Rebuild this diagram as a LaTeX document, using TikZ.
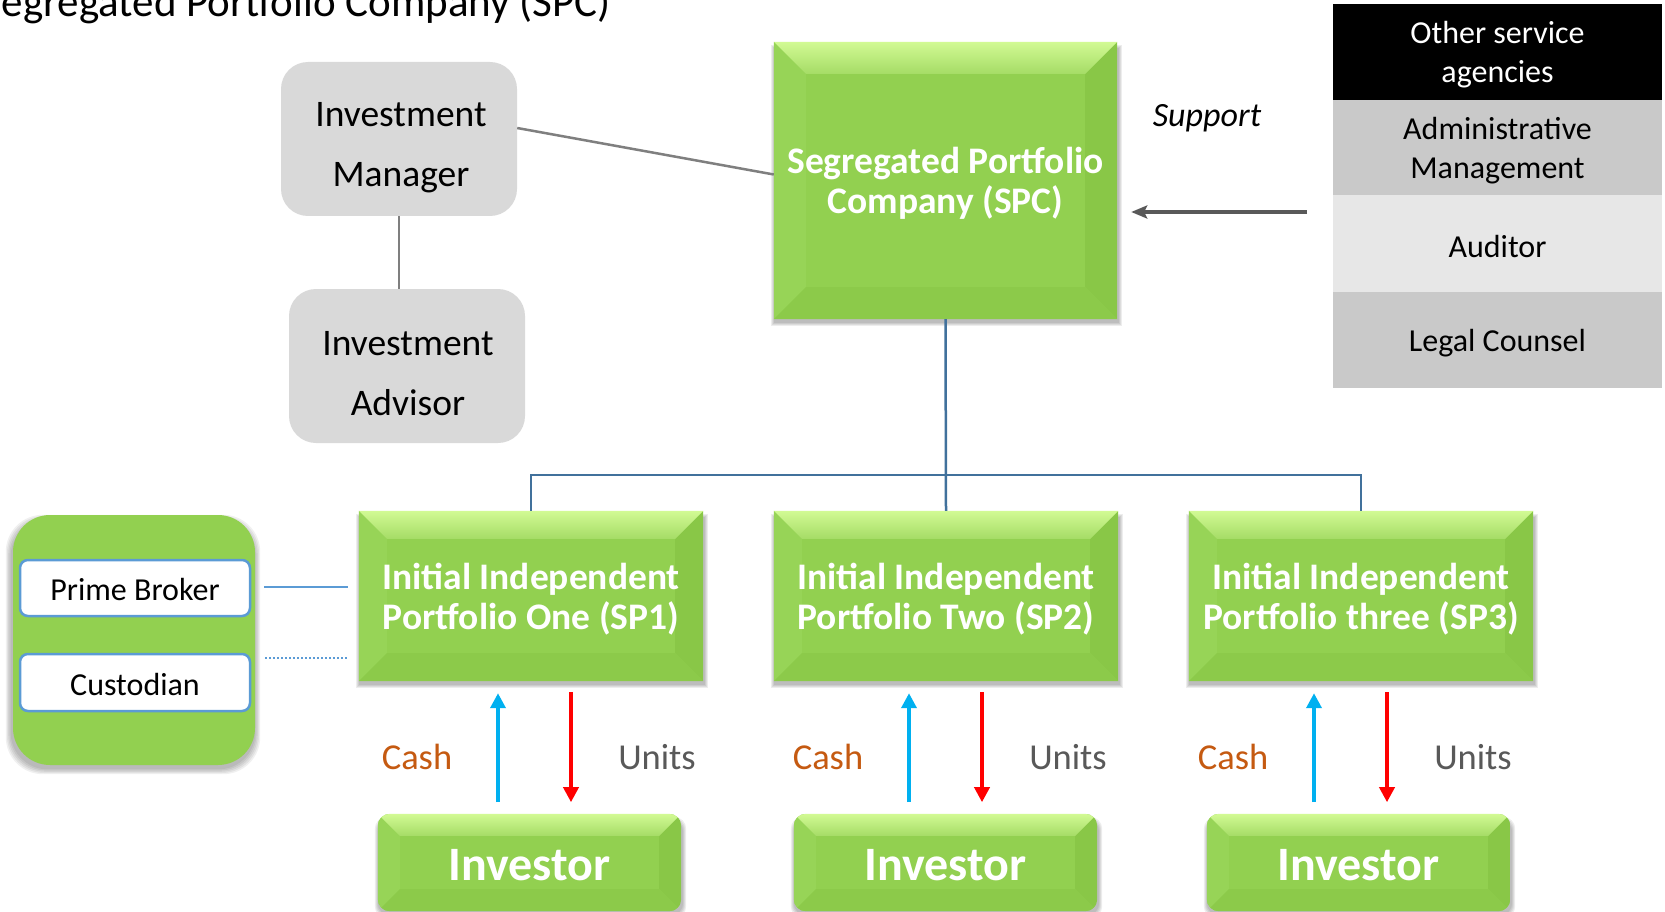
\documentclass[tikz,border=0pt]{standalone}
\usepackage{fontspec}
\setmainfont{Carlito}
\usetikzlibrary{calc,backgrounds,arrows.meta}
\definecolor{gmain}{HTML}{92D050}
\definecolor{gtopA}{HTML}{D2FA94}
\definecolor{gtopB}{HTML}{A5DC66}
\definecolor{gleft}{HTML}{97D457}
\definecolor{gright}{HTML}{89C747}
\definecolor{gbot}{HTML}{8CCA4A}
\definecolor{boxgray}{HTML}{D9D9D9}
\definecolor{rowmid}{HTML}{C9C9C9}
\definecolor{rowlight}{HTML}{E7E7E7}
\definecolor{treeblue}{HTML}{41719C}
\definecolor{lightblue}{HTML}{5B9BD5}
\definecolor{cashblue}{HTML}{00B0F0}
\definecolor{unitred}{HTML}{FF0000}
\definecolor{cashtext}{HTML}{C55A11}
\definecolor{darkgray}{HTML}{595959}
\definecolor{linegray}{HTML}{7F7F7F}

% #1 node name, #2 bevel size, #3 corner radius
\newcommand\bevelfill[3]{%
 \begin{scope}[on background layer]
  \foreach \k in {1,...,4}{%
   \fill[black,opacity=0.07,rounded corners=#3]
     ($(#1.south west)+(1pt-\k*1pt,-3pt-\k*1pt)$) rectangle ($(#1.north east)+(1pt+\k*1pt,-7pt+\k*1pt)$);}
  \begin{scope}
   \clip[rounded corners=#3] (#1.south west) rectangle (#1.north east);
   \fill[gmain] (#1.south west) rectangle (#1.north east);
   \fill[gleft] (#1.north west) -- ($(#1.north west)+(#2,-#2)$) -- ($(#1.south west)+(#2,#2)$) -- (#1.south west) -- cycle;
   \fill[gright] (#1.north east) -- ($(#1.north east)+(-#2,-#2)$) -- ($(#1.south east)+(-#2,#2)$) -- (#1.south east) -- cycle;
   \fill[gbot] (#1.south west) -- ($(#1.south west)+(#2,#2)$) -- ($(#1.south east)+(-#2,#2)$) -- (#1.south east) -- cycle;
   \shade[top color=gtopA,bottom color=gtopB] (#1.north west) -- (#1.north east) -- ($(#1.north east)+(-#2,-#2)$) -- ($(#1.north west)+(#2,-#2)$) -- cycle;
  \end{scope}
 \end{scope}}

\newcommand\softshade[2]{%
 \begin{scope}[on background layer]
  \foreach \k in {1,...,5}{%
   \fill[black,opacity=0.06,rounded corners=#2]
     ($(#1.south west)+(-1pt-\k*1.2pt,-3pt-\k*1.2pt)$) rectangle ($(#1.north east)+(-1pt+\k*1.2pt,-6pt+\k*1.2pt)$);}
 \end{scope}}

\begin{document}
\begin{tikzpicture}[x=1pt,y=-1pt,
  greybox/.style={fill=boxgray,rounded corners=27pt,inner sep=0pt,
    minimum width=236pt,minimum height=154pt},
  greytext/.style={inner sep=0pt,align=center,font=\fontsize{37.5}{60}\selectfont},
  gtext/.style={inner sep=0pt,align=center,text=white,font=\bfseries\fontsize{37.5}{40}\selectfont},
  invtext/.style={inner sep=0pt,align=center,text=white,font=\bfseries\fontsize{48}{50}\selectfont},
  spbox/.style={inner sep=0pt,minimum width=344pt,minimum height=170pt},
  invbox/.style={inner sep=0pt,minimum width=303pt,minimum height=97pt},
  rownode/.style={inner sep=0pt,minimum width=329pt},
  rowtext/.style={inner sep=0pt,align=center,font=\fontsize{32}{39}\selectfont},
  whitebox/.style={fill=white,draw=lightblue,line width=2.5pt,rounded corners=8pt,inner sep=0pt,
    minimum width=230pt,minimum height=56pt},
  wtext/.style={inner sep=0pt,font=\fontsize{32}{38}\selectfont},
  greyline/.style={draw=linegray,line width=2.5pt},
  treeline/.style={draw=treeblue,line width=2.5pt},
  blueline/.style={draw=lightblue,line width=2.5pt},
  cashar/.style={draw=cashblue,line width=3.6pt,-{Triangle[length=15pt,width=15pt]}},
  unitar/.style={draw=unitred,line width=3.6pt,-{Triangle[length=15pt,width=15pt]}},
  cashlab/.style={text=cashtext,font=\fontsize{36.5}{40}\selectfont,inner sep=0pt},
  unitlab/.style={text=darkgray,font=\fontsize{36.5}{40}\selectfont,inner sep=0pt}
]
\useasboundingbox (0,0) rectangle (1665,912);
\begin{scope}[on background layer]
 \fill[white] (0,0) rectangle (1665,912);
\end{scope}

% title (cut by the top edge, as in the original)
\node[anchor=base east,inner sep=0pt,font=\fontsize{43}{50}\selectfont] (title) at (611,17) {Segregated Portfolio Company (SPC)};

% investment manager / advisor
\node[greybox] (im) at (399,139) {};
\node[greytext] (imT) at (401,147.5) {Investment\\Manager};
\node[greybox] (ia) at (407,366) {};
\node[greytext] (iaT) at (408,373.5) {Investment\\Advisor};
\draw[greyline] (im.south) -- (im.south |- ia.north);

% SPC
\node[spbox,minimum width=343pt,minimum height=277pt] (spc) at (945.5,180.5) {};
\bevelfill{spc}{32pt}{0pt}
\node[gtext] (spcT) at (945.5,183.5) {Segregated Portfolio\\Company (SPC)};
\draw[greyline] ($(im.east)+(0,11pt)$) -- ($(spc.west)+(0,6pt)$);

% service agencies table
\node[rownode,fill=black,minimum height=96pt] (r1) at (1497.5,52) {};
\node[rownode,fill=rowmid,minimum height=95pt] (r2) at (1497.5,147.5) {};
\node[rownode,fill=rowlight,minimum height=97pt] (r3) at (1497.5,243.5) {};
\node[rownode,fill=rowmid,minimum height=96pt] (r4) at (1497.5,340) {};
\node[rowtext,text=white] (r1T) at (1497.5,55) {Other service\\agencies};
\node[rowtext] (r2T) at (1497.5,151) {Administrative\\Management};
\node[rowtext] (r3T) at (1497.5,247) {Auditor};
\node[rowtext] (r4T) at (1497.5,343) {Legal Counsel};

\node[font=\itshape\fontsize{34}{40}\selectfont,inner sep=0pt] (sup) at (1207,118) {Support};
\coordinate (supstart) at (1307,212);
\draw[draw=darkgray,line width=3.5pt,-{Stealth[length=16pt,width=13pt,inset=3pt]}] (supstart) -- ($(spc.east |- supstart)+(14pt,0)$);

% segregated portfolios
\node[spbox] (sp1) at (531,596) {};
\node[spbox] (sp2) at (946,596) {};
\node[spbox] (sp3) at (1361,596) {};
\bevelfill{sp1}{28pt}{0pt}
\bevelfill{sp2}{28pt}{0pt}
\bevelfill{sp3}{28pt}{0pt}
\node[gtext] (sp1T) at (531,599) {Initial Independent\\Portfolio One (SP1)};
\node[gtext] (sp2T) at (946,599) {Initial Independent\\Portfolio Two (SP2)};
\node[gtext] (sp3T) at (1361,599) {Initial Independent\\Portfolio three (SP3)};

\coordinate (bus) at (946,475);
\draw[treeline] (spc.south) -- (sp2.north);
\draw[treeline] (sp1.north) |- (bus) -| (sp3.north);

% investors
\node[invbox] (inv1) at (529.5,862.5) {};
\node[invbox] (inv2) at (945.5,862.5) {};
\node[invbox] (inv3) at (1358.5,862.5) {};
\bevelfill{inv1}{22pt}{12pt}
\bevelfill{inv2}{22pt}{12pt}
\bevelfill{inv3}{22pt}{12pt}
\node[invtext] (inv1T) at (529.5,865.5) {Investor};
\node[invtext] (inv2T) at (945.5,865.5) {Investor};
\node[invtext] (inv3T) at (1358.5,865.5) {Investor};

% cash / units flows
\draw[cashar] ($(sp1.south)+(-33pt,-121pt)$) -- ($(sp1.south)+(-33pt,-12pt)$);
\draw[unitar] ($(sp1.south)+(40pt,-11pt)$) -- ($(sp1.south)+(40pt,-121pt)$);
\draw[cashar] ($(sp2.south)+(-37pt,-121pt)$) -- ($(sp2.south)+(-37pt,-12pt)$);
\draw[unitar] ($(sp2.south)+(36pt,-11pt)$) -- ($(sp2.south)+(36pt,-121pt)$);
\draw[cashar] ($(sp3.south)+(-47pt,-121pt)$) -- ($(sp3.south)+(-47pt,-12pt)$);
\draw[unitar] ($(sp3.south)+(26pt,-11pt)$) -- ($(sp3.south)+(26pt,-121pt)$);
\node[cashlab] (c1) at (417,757) {Cash};
\node[unitlab] (u1) at (657,757) {Units};
\node[cashlab] (c2) at (828,757) {Cash};
\node[unitlab] (u2) at (1068,757) {Units};
\node[cashlab] (c3) at (1233,757) {Cash};
\node[unitlab] (u3) at (1473,757) {Units};

% left panel
\node[fill=gmain,rounded corners=37pt,minimum width=242pt,minimum height=250pt,inner sep=0pt] (pnl) at (134,640) {};
\softshade{pnl}{37pt}
\node[whitebox] (pb) at (135,588) {};
\node[wtext] (pbT) at (135,589.5) {Prime Broker};
\node[whitebox,minimum height=57pt] (cu) at (135,682.5) {};
\node[wtext] (cuT) at (135,684.5) {Custodian};
\draw[blueline] ($(pb.east)+(13pt,1pt)$) -- ($(sp1.west |- pb.east)+(-11pt,1pt)$);
\coordinate (dotA) at (265,658);
\draw[blueline,dash pattern=on 2pt off 2pt] (dotA) -- ($(sp1.west |- dotA)+(-11pt,0)$);
\end{tikzpicture}
\end{document}
